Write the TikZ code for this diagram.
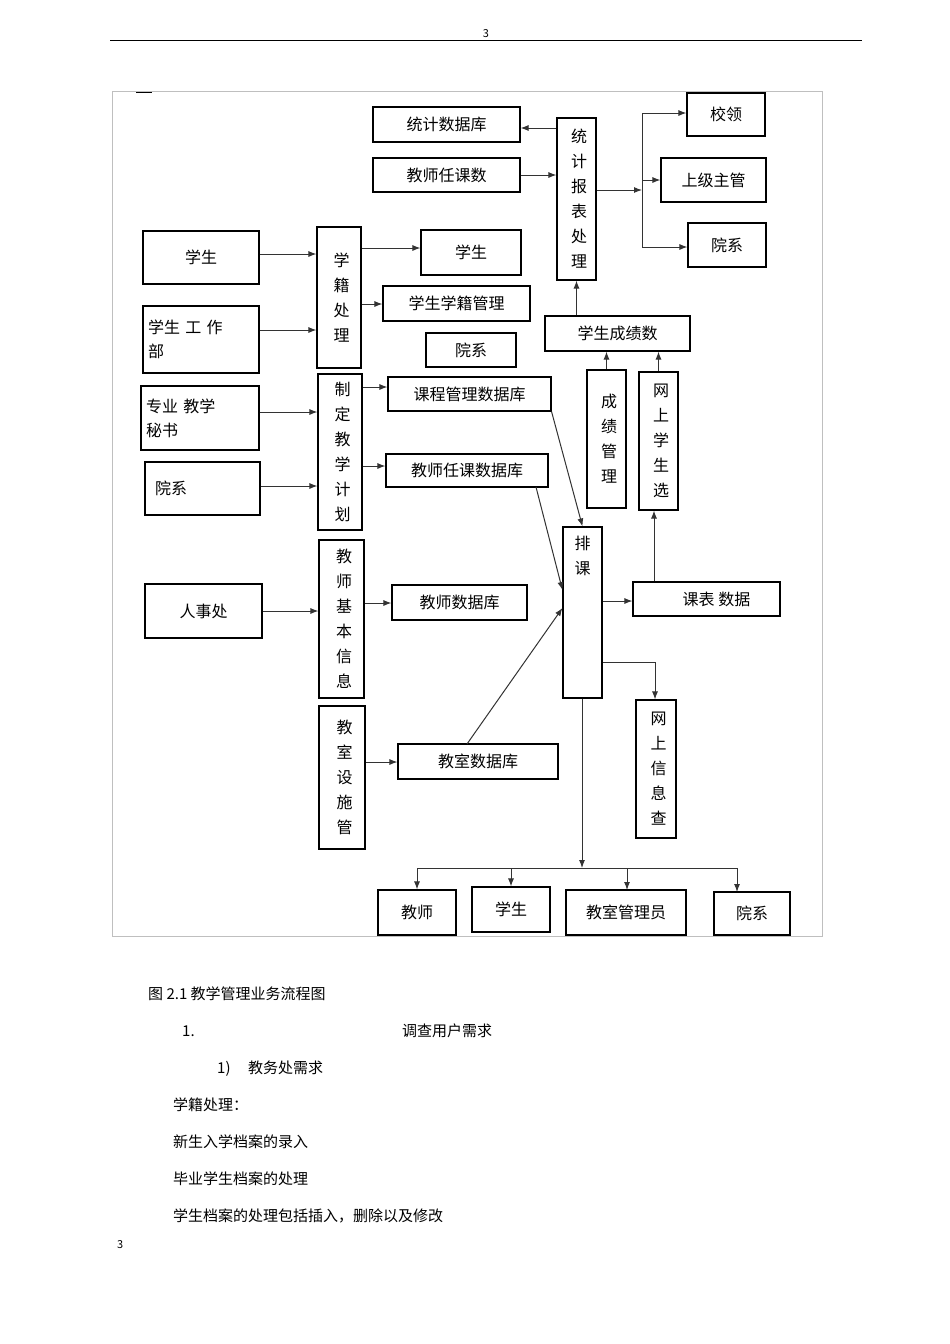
\documentclass[tikz,border=0pt]{standalone}
\usepackage{fontspec}
\setmainfont{Noto Sans CJK SC}
\usetikzlibrary{arrows.meta}
\begin{document}
\begin{tikzpicture}[x=1pt,y=-1pt,
  bx/.style={draw=black,line width=1.1pt,inner sep=2pt,font=\fontsize{16}{24}\selectfont},
  vt/.style={bx,align=center,text width=1.1em,font=\fontsize{16}{25}\selectfont},
  ar/.style={draw=black!80,line width=1pt,-{Latex[length=8pt,width=6pt]}},
  ln/.style={draw=black!80,line width=1pt},
  body/.style={anchor=base west,inner sep=0pt,font=\fontsize{15}{17}\selectfont}]
\useasboundingbox (0,0) rectangle (950,1344);
\fill[white] (0,0) rectangle (950,1344);
% header / frame
\draw[line width=0.8pt] (110,40) -- (862,40);
\node[body,anchor=base] (pg) at (486,37) {\fontsize{11}{12}\selectfont 3};
\node[body] (pg2) at (117,1248) {\fontsize{11}{12}\selectfont 3};
\draw[black!25,line width=0.8pt] (112,91) rectangle (822,936);
\draw[line width=1pt] (136,92) -- (152,92);
% nodes
\node[bx,minimum width=147,minimum height=35] (tjsjk) at (446.5,124.5) {统计数据库};
\node[bx,minimum width=147,minimum height=34] (jsrks) at (446.5,175) {教师任课数};
\node[vt,minimum width=39,minimum height=162] (tjbb) at (576.5,199) {统\\计\\报\\表\\处\\理};
\node[bx,minimum width=78,minimum height=43] (xl) at (726,114.5) {校领};
\node[bx,minimum width=105,minimum height=44] (sjzg) at (713.5,180) {上级主管};
\node[bx,minimum width=78,minimum height=44] (yx1) at (727,245) {院系};
\node[bx,minimum width=116,minimum height=53] (xsL) at (201,257.5) {学生};
\node[vt,minimum width=44,minimum height=141] (xjcl) at (339,297.5) {学\\籍\\处\\理};
\node[bx,minimum width=100,minimum height=45] (xsR) at (471,252.5) {学生};
\node[bx,minimum width=147,minimum height=35] (xsxjgl) at (456.5,303.5) {学生学籍管理};
\node[bx,minimum width=90,minimum height=34] (yx2) at (471,350) {院系};
\node[bx,minimum width=116,minimum height=67,align=left,text width=106] (xsgzb) at (201,339.5) {学生 工 作\\部};
\node[bx,minimum width=145,minimum height=35] (xscjs) at (617.5,333.5) {学生成绩数};
\node[vt,minimum width=39,minimum height=138] (cjgl) at (606.5,439) {成\\绩\\管\\理};
\node[vt,minimum width=39,minimum height=138] (wsxsx) at (658.5,441) {网\\上\\学\\生\\选};
\node[bx,minimum width=118,minimum height=64,align=left,text width=108] (zyjxms) at (200,418) {专业 教学\\秘书};
\node[bx,minimum width=115,minimum height=53,align=left,text width=95] (yxL) at (202.5,488.5) {院系\\[4pt]};
\node[vt,minimum width=44,minimum height=156] (zdjxjh) at (340,452) {制\\定\\教\\学\\计\\划};
\node[bx,minimum width=163,minimum height=34] (kcgl) at (469.5,394) {课程管理数据库};
\node[bx,minimum width=162,minimum height=33] (jsrksjk) at (467,470.5) {教师任课数据库};
\node[bx,minimum width=39,minimum height=171,
  label={[anchor=north,inner sep=0pt,align=center,font=\fontsize{16}{25}\selectfont]north:{\\[-2pt]排\\课}}] (pk) at (582.5,612.5) {};
\node[bx,minimum width=117,minimum height=54] (rsc) at (203.5,611) {人事处};
\node[vt,minimum width=45,minimum height=158] (jsjbxx) at (341.5,619) {教\\师\\基\\本\\信\\息};
\node[bx,minimum width=135,minimum height=35] (jssjk) at (459.5,602.5) {教师数据库};
\node[bx,minimum width=147,minimum height=34] (kbsj) at (706.5,599) {\hspace{20pt}课表 数据};
\node[vt,minimum width=46,minimum height=143] (jsss) at (342,777.5) {教\\室\\设\\施\\管};
\node[bx,minimum width=160,minimum height=35] (jssjk2) at (478,761.5) {教室数据库};
\node[vt,minimum width=40,minimum height=138] (wsxxc) at (656,769) {网\\上\\信\\息\\查};
\node[bx,minimum width=78,minimum height=45] (js) at (417,912.5) {教师};
\node[bx,minimum width=78,minimum height=45] (xsB) at (511,909.5) {学生};
\node[bx,minimum width=120,minimum height=45] (jsgly) at (626,912.5) {教室管理员};
\node[bx,minimum width=76,minimum height=43] (yxB) at (752,913.5) {院系};
% connectors
\draw[ar] (xsL.east |- 0,254) -- (xjcl.west |- 0,254);
\draw[ar] (xsgzb.east |- 0,330) -- (xjcl.west |- 0,330);
\draw[ar] (xjcl.east |- 0,248) -- (xsR.west |- 0,248);
\draw[ar] (xjcl.east |- 0,304) -- (xsxjgl.west |- 0,304);
\draw[ar] (zyjxms.east |- 0,412) -- (zdjxjh.west |- 0,412);
\draw[ar] (yxL.east |- 0,486) -- (zdjxjh.west |- 0,486);
\draw[ar] (zdjxjh.east |- 0,387) -- (kcgl.west |- 0,387);
\draw[ar] (zdjxjh.east |- 0,466) -- (jsrksjk.west |- 0,466);
\draw[ar] (rsc.east |- 0,611) -- (jsjbxx.west |- 0,611);
\draw[ar] (jsjbxx.east |- 0,603) -- (jssjk.west |- 0,603);
\draw[ar] (jsss.east |- 0,762) -- (jssjk2.west |- 0,762);
\draw[ar] (kcgl.south east) -- (pk.north);
\draw[ar] (536,487) -- (pk.west |- 0,590);
\draw[ar] (467,744) -- (pk.west |- 0,608);
\draw[ar] (pk.east |- 0,601) -- (kbsj.west |- 0,601);
\draw[ar] (kbsj.north -| 654,0) -- (wsxsx.south -| 654,0);
\draw[ar] (cjgl.north) -- (cjgl.north |- xscjs.south);
\draw[ar] (wsxsx.north) -- (wsxsx.north |- xscjs.south);
\draw[ar] (xscjs.north -| tjbb.south) -- (tjbb.south);
\draw[ar] (tjbb.west |- 0,128) -- (tjsjk.east |- 0,128);
\draw[ar] (jsrks.east |- 0,175) -- (tjbb.west |- 0,175);
\coordinate (br) at (642,190);
\draw[ar] (tjbb.east |- br) -- (br);
\draw[ln] (642,113) -- (642,247);
\draw[ar] (642,113) -- (xl.west |- 0,113);
\draw[ar] (642,180) -- (sjzg.west |- 0,180);
\draw[ar] (642,247) -- (yx1.west |- 0,247);
\draw[ln] (pk.east |- 0,662) -- (655,662);
\draw[ar] (655,662) -- (wsxxc.north -| 655,0);
\coordinate (bj) at (582,868);
\draw[ar] (pk.south -| bj) -- (bj);
\draw[ln] (417,868) -- (737,868);
\draw[ar] (417,868) -- (js.north);
\draw[ar] (xsB.north |- bj) -- (xsB.north);
\draw[ar] (627,868) -- (627,890);
\draw[ar] (737,868) -- (737,892);
% text below
\node[body] (cap) at (148,999) {图 2.1 教学管理业务流程图};
\node[body] (t1) at (182,1036) {1.};
\node[body] (t1b) at (402,1036) {调查用户需求};
\node[body] (t2) at (217,1073) {1)};
\node[body] (t2b) at (248,1073) {教务处需求};
\node[body] (t3) at (173,1110) {学籍处理：};
\node[body] (t4) at (173,1147) {新生入学档案的录入};
\node[body] (t5) at (173,1184) {毕业学生档案的处理};
\node[body] (t6) at (173,1221) {学生档案的处理包括插入，删除以及修改};
\end{tikzpicture}
\end{document}
